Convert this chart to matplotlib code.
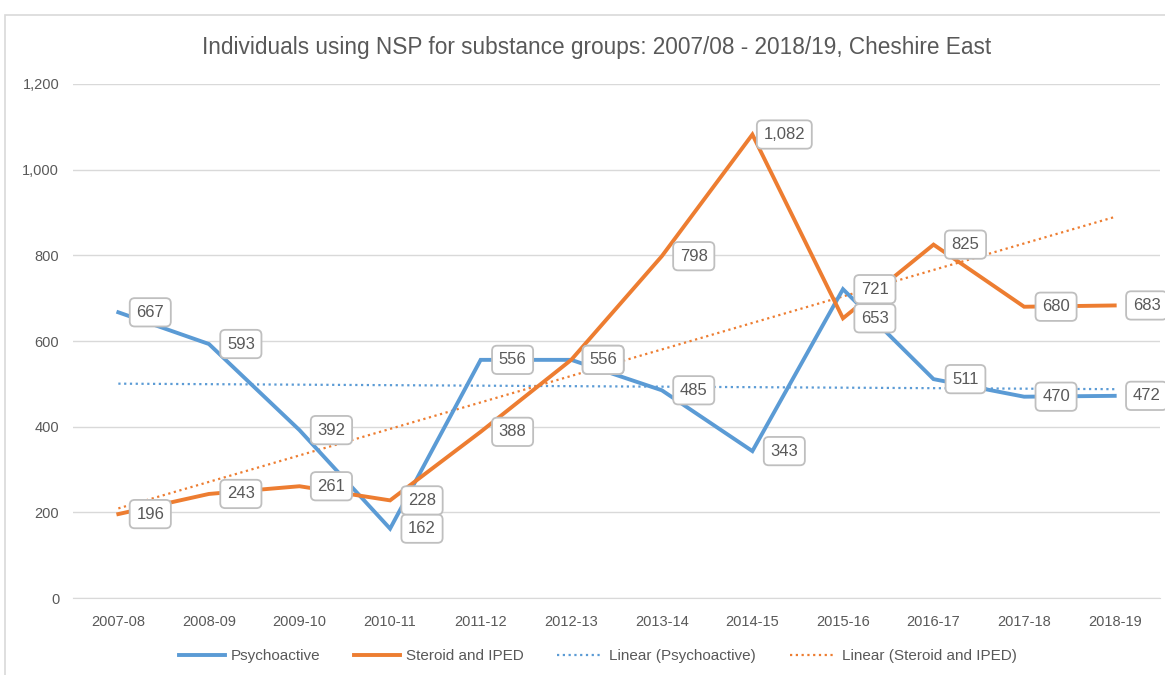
import numpy as np
import matplotlib
matplotlib.use("Agg")
import matplotlib.pyplot as plt
from matplotlib.patches import Rectangle
from matplotlib.ticker import FuncFormatter

plt.rcParams['font.family'] = ['Liberation Sans Narrow', 'Liberation Sans', 'DejaVu Sans']

years = ['2007-08', '2008-09', '2009-10', '2010-11', '2011-12', '2012-13',
         '2013-14', '2014-15', '2015-16', '2016-17', '2017-18', '2018-19']
psychoactive = [667, 593, 392, 162, 556, 556, 485, 343, 721, 511, 470, 472]
steroid = [196, 243, 261, 228, 388, 556, 798, 1082, 653, 825, 680, 683]

blue = '#5B9BD5'
orange = '#ED7D31'
grey_txt = '#595959'

fig = plt.figure(figsize=(11.65, 6.75), dpi=100)
ax = fig.add_axes([0.0627, 0.114, 0.933, 0.7616])

x = np.arange(len(years))

# trend lines (least squares, like excel's "Linear" trendline)
for vals, col, name in [(psychoactive, blue, 'Linear (Psychoactive)'),
                        (steroid, orange, 'Linear (Steroid and IPED)')]:
    k, b = np.polyfit(x, vals, 1)
    ax.plot(x, k * x + b, color=col, lw=1.6, ls=(0, (1, 1.6)), label=name, zorder=2)

ax.plot(x, psychoactive, color=blue, lw=2.8, label='Psychoactive', zorder=3,
        solid_joinstyle='miter')
ax.plot(x, steroid, color=orange, lw=2.8, label='Steroid and IPED', zorder=3,
        solid_joinstyle='miter')

box = dict(boxstyle='round,pad=0.4,rounding_size=0.3', fc='white', ec='#bfbfbf', lw=1.3)
for vals in (psychoactive, steroid):
    for xi, v in zip(x, vals):
        ax.annotate(f'{v:,}', (xi, v), xytext=(23, 0), textcoords='offset points',
                    ha='center', va='center', fontsize=12, color=grey_txt,
                    bbox=box, zorder=5, annotation_clip=False)

ax.set_xlim(-0.5, len(years) - 0.5)
ax.set_ylim(0, 1200)
ax.set_yticks(range(0, 1201, 200))
ax.yaxis.set_major_formatter(FuncFormatter(lambda v, p: f'{int(v):,}'))
ax.set_xticks(x)
ax.set_xticklabels(years)
ax.tick_params(length=0, labelsize=10.5, colors=grey_txt)
ax.tick_params(axis='y', pad=10)
ax.tick_params(axis='x', pad=12)
ax.grid(axis='y', color='#d9d9d9', lw=1)
ax.set_axisbelow(True)
for s in ['top', 'right', 'left']:
    ax.spines[s].set_visible(False)
ax.spines['bottom'].set_color('#d9d9d9')

fig.text(0.512, 0.93, 'Individuals using NSP for substance groups: 2007/08 - 2018/19, Cheshire East',
         ha='center', va='center', fontsize=16.3, color=grey_txt)

handles, labels = ax.get_legend_handles_labels()
order = [2, 3, 0, 1]
fig.legend([handles[i] for i in order], [labels[i] for i in order],
           loc='center', bbox_to_anchor=(0.513, 0.028), ncol=4, frameon=False,
           fontsize=11, labelcolor=grey_txt, handlelength=3.0, columnspacing=2.2,
           handletextpad=0.4)

fig.patches.append(Rectangle((0.004, -0.01), 1.0, 0.988, transform=fig.transFigure,
                             fill=False, ec='#d9d9d9', lw=1.2))

fig.savefig('out.png', dpi=100)
